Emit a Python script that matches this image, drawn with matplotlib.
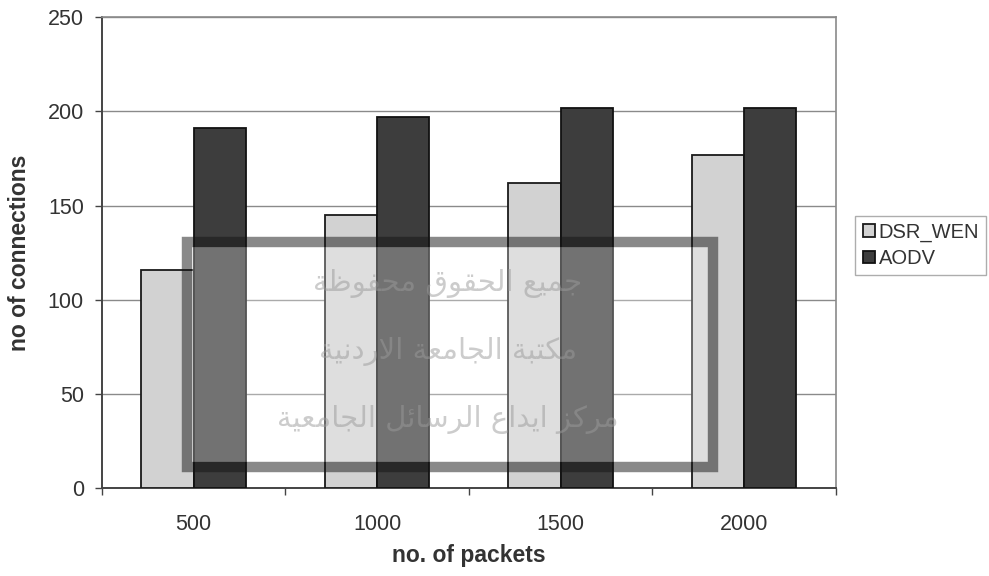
import matplotlib
matplotlib.use("Agg")
import matplotlib.pyplot as plt
from matplotlib.patches import Rectangle
import numpy as np

# ---- data ----
categories = ["500", "1000", "1500", "2000"]
dsr_wen = [116, 145, 162, 177]
aodv = [191, 197, 202, 202]
series_names = ["DSR_WEN", "AODV"]
y_ticks = [0, 50, 100, 150, 200, 250]
x_label = "no. of packets"
y_label = "no of connections"
watermark_lines = ["جميع الحقوق محفوظة", "مكتبة الجامعة الاردنية", "مركز ايداع الرسائل الجامعية"]

# ---- minimal Arabic shaping (presentation forms) ----
FORMS = {
    'ا': (0xFE8D, 0xFE8E, None, None), 'ب': (0xFE8F, 0xFE90, 0xFE91, 0xFE92),
    'ة': (0xFE93, 0xFE94, None, None), 'ت': (0xFE95, 0xFE96, 0xFE97, 0xFE98),
    'ج': (0xFE9D, 0xFE9E, 0xFE9F, 0xFEA0), 'ح': (0xFEA1, 0xFEA2, 0xFEA3, 0xFEA4),
    'د': (0xFEA9, 0xFEAA, None, None), 'ر': (0xFEAD, 0xFEAE, None, None),
    'ز': (0xFEAF, 0xFEB0, None, None), 'س': (0xFEB1, 0xFEB2, 0xFEB3, 0xFEB4),
    'ظ': (0xFEC5, 0xFEC6, 0xFEC7, 0xFEC8), 'ع': (0xFEC9, 0xFECA, 0xFECB, 0xFECC),
    'ف': (0xFED1, 0xFED2, 0xFED3, 0xFED4), 'ق': (0xFED5, 0xFED6, 0xFED7, 0xFED8),
    'ك': (0xFED9, 0xFEDA, 0xFEDB, 0xFEDC), 'ل': (0xFEDD, 0xFEDE, 0xFEDF, 0xFEE0),
    'م': (0xFEE1, 0xFEE2, 0xFEE3, 0xFEE4), 'ن': (0xFEE5, 0xFEE6, 0xFEE7, 0xFEE8),
    'و': (0xFEED, 0xFEEE, None, None), 'ي': (0xFEF1, 0xFEF2, 0xFEF3, 0xFEF4),
    'ئ': (0xFE89, 0xFE8A, 0xFE8B, 0xFE8C),
}


def shape(text):
    out = []
    chars = list(text)
    i = 0
    n = len(chars)
    while i < n:
        c = chars[i]
        if c not in FORMS:
            out.append(c)
            i += 1
            continue
        prev = chars[i - 1] if i > 0 else None
        joins_prev = prev in FORMS and FORMS[prev][2] is not None
        if c == 'ل' and i + 1 < n and chars[i + 1] == 'ا':
            out.append(chr(0xFEFC if joins_prev else 0xFEFB))
            i += 2
            continue
        nxt = chars[i + 1] if i + 1 < n else None
        joins_next = FORMS[c][2] is not None and nxt in FORMS
        iso, fin, ini, med = FORMS[c]
        if joins_prev and joins_next:
            g = med
        elif joins_prev:
            g = fin
        elif joins_next:
            g = ini
        else:
            g = iso
        out.append(chr(g))
        i += 1
    return "".join(out)[::-1]


plt.rcParams['font.family'] = ['Liberation Sans', 'DejaVu Sans']

fig = plt.figure(figsize=(9.89, 5.76), dpi=100)
fig.patch.set_facecolor('white')
ax = fig.add_axes([0.103, 0.153, 0.742, 0.817])

x = np.arange(len(categories))
w = 0.284
ax.bar(x - w / 2, dsr_wen, width=w, color='#d2d2d2', edgecolor='#1a1a1a', linewidth=1.3,
       label=series_names[0], zorder=3)
ax.bar(x + w / 2, aodv, width=w, color='#3d3d3d', edgecolor='#111111', linewidth=1.3,
       label=series_names[1], zorder=3)

ax.set_xlim(-0.5, len(categories) - 0.5)
ax.set_ylim(0, 250)
ax.set_yticks(y_ticks)
ax.set_yticklabels([str(v) for v in y_ticks], fontsize=15.5, color='#333333')
ax.set_xticks(x)
ax.set_xticklabels(categories, fontsize=15.5, color='#333333')
ax.tick_params(axis='x', which='major', length=0, pad=19)
ax.set_xticks(np.arange(-0.5, len(categories), 1.0), minor=True)
ax.tick_params(axis='x', which='minor', length=5, color='#444444', width=1)
ax.tick_params(axis='y', length=5, color='#444444', width=1, pad=8)

ax.yaxis.grid(True, color='#8a8a8a', linewidth=1.0, zorder=0)
ax.set_axisbelow(True)
for side in ['left', 'bottom']:
    ax.spines[side].set_color('#444444')
    ax.spines[side].set_linewidth(1.4)
for side in ['top', 'right']:
    ax.spines[side].set_color('#8a8a8a')
    ax.spines[side].set_linewidth(1.2)

ax.set_xlabel(x_label, fontsize=16.5, fontweight='bold', color='#333333', labelpad=6)
ax.set_ylabel(y_label, fontsize=16.5, fontweight='bold', color='#333333', labelpad=12)

leg = fig.legend(loc='center left', bbox_to_anchor=(0.865, 0.574), fontsize=14.5,
                 frameon=True, fancybox=False, edgecolor='#999999', handlelength=0.6,
                 handleheight=0.6, handletextpad=0.2, borderpad=0.35, labelspacing=0.35,
                 borderaxespad=0)
for t in leg.get_texts():
    t.set_color('#333333')

# ---- watermark ----
wm_ax = fig.add_axes([0, 0, 1, 1], facecolor='none')
wm_ax.set_xlim(0, 989)
wm_ax.set_ylim(576, 0)
wm_ax.axis('off')
wm_ax.add_patch(Rectangle((192, 247), 516, 215, facecolor='white', alpha=0.28,
                          edgecolor='none'))
wm_ax.add_patch(Rectangle((187, 242), 526, 225, facecolor='none', edgecolor='#151515',
                          alpha=0.5, linewidth=7.5))
for k, line in enumerate(watermark_lines):
    wm_ax.text(448, 283 + 68 * k, shape(line), fontsize=21, color='#9a9a9a', alpha=0.5,
               ha='center', va='center', family=['DejaVu Sans'])

fig.savefig('out.png', dpi=100)
